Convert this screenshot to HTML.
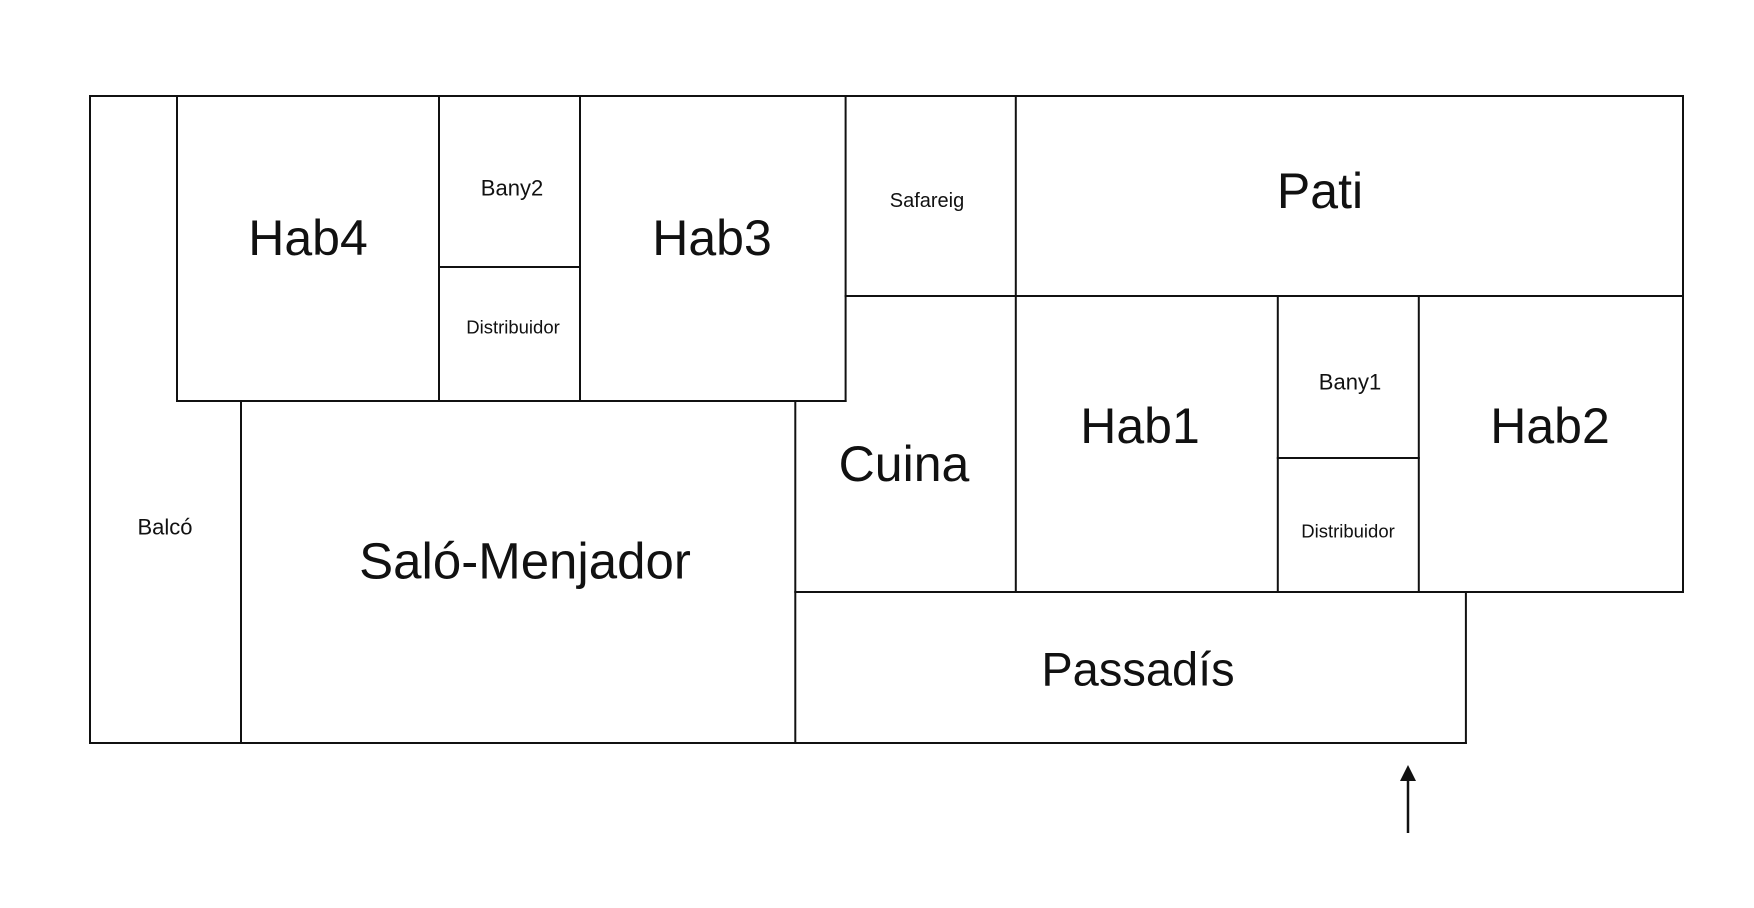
<!DOCTYPE html>
<html><head><meta charset="utf-8"><style>html,body{margin:0;padding:0;background:#fff;width:1754px;height:908px;overflow:hidden}</style></head><body>
<svg width="1754" height="908" xmlns="http://www.w3.org/2000/svg" style="display:block">
<g fill="none" stroke="#111" stroke-width="2" stroke-linecap="square">
<!-- outer / Balcó -->
<line x1="90" y1="96" x2="1683" y2="96"/>
<line x1="90" y1="96" x2="90" y2="743"/>
<line x1="90" y1="743" x2="1465.9" y2="743"/>
<line x1="241" y1="401" x2="241" y2="743"/>
<!-- Hab4 block -->
<line x1="177" y1="96" x2="177" y2="401"/>
<line x1="177" y1="401" x2="845.6" y2="401"/>
<line x1="439" y1="96" x2="439" y2="401"/>
<line x1="439" y1="267" x2="580" y2="267"/>
<line x1="580" y1="96" x2="580" y2="401"/>
<line x1="845.6" y1="96" x2="845.6" y2="401"/>
<!-- Safareig / Pati -->
<line x1="1015.8" y1="96" x2="1015.8" y2="592"/>
<line x1="845.6" y1="296" x2="1683" y2="296"/>
<line x1="1683" y1="96" x2="1683" y2="592"/>
<!-- Cuina -->
<line x1="795.3" y1="401" x2="795.3" y2="743"/>
<line x1="795.3" y1="592" x2="1683" y2="592"/>
<!-- Bany1 etc -->
<line x1="1277.8" y1="296" x2="1277.8" y2="592"/>
<line x1="1418.8" y1="296" x2="1418.8" y2="592"/>
<line x1="1277.8" y1="458" x2="1418.8" y2="458"/>
<!-- Passadís -->
<line x1="1465.9" y1="592" x2="1465.9" y2="743"/>
<line x1="1408" y1="833" x2="1408" y2="780" stroke-width="2.5" stroke-linecap="butt"/>
</g>
<polygon points="1408,765 1400,781 1416,781" fill="#111"/>
<g font-family="Liberation Sans, sans-serif" fill="#111" text-anchor="middle" dominant-baseline="central">
<text x="308" y="238" font-size="50">Hab4</text>
<text x="512" y="188" font-size="22">Bany2</text>
<text x="513" y="327" font-size="18.5">Distribuidor</text>
<text x="712" y="238" font-size="50">Hab3</text>
<text x="927" y="201" font-size="20">Safareig</text>
<text x="1320" y="191" font-size="50">Pati</text>
<text x="904" y="464" font-size="50">Cuina</text>
<text x="1140" y="426" font-size="50">Hab1</text>
<text x="1350" y="382" font-size="22">Bany1</text>
<text x="1348" y="531" font-size="18.5">Distribuidor</text>
<text x="1550" y="426" font-size="50">Hab2</text>
<text x="165" y="527" font-size="22">Balcó</text>
<text x="525" y="561" font-size="51">Saló-Menjador</text>
<text x="1138" y="669" font-size="47">Passadís</text>
</g>
</svg>
</body></html>
